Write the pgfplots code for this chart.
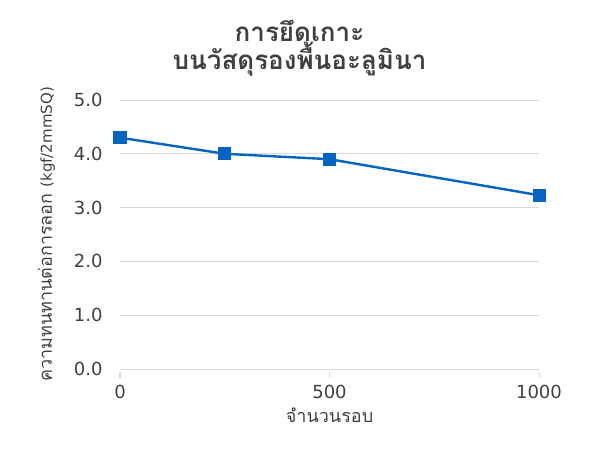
\documentclass[border=0pt]{standalone}
\usepackage{pgfplots}
\pgfplotsset{compat=1.18}
\usepackage{fontspec}
\setmainfont{DejaVu Sans}
\newfontfamily\thaifont[Script=Thai]{Loma}
\definecolor{txt}{HTML}{404040}
\definecolor{grid}{HTML}{D9D9D9}
\definecolor{ser}{HTML}{0563C1}
\begin{document}
\begin{tikzpicture}[x=1pt,y=1pt]
\useasboundingbox (0,0) rectangle (600,451);
\begin{axis}[
  at={(120pt,82pt)}, anchor=south west,
  scale only axis, width=419pt, height=269pt,
  xmin=0, xmax=1000, ymin=0, ymax=5,
  xtick={0,500,1000}, ytick={0,1,2,3,4,5},
  /pgf/number format/1000 sep={},
  yticklabel={\pgfmathprintnumber[fixed,fixed zerofill,precision=1]{\tick}},
  /pgf/number format/assume math mode=true,
  axis y line*=left, axis x line*=bottom,
  y axis line style={draw=none},
  x axis line style={draw=grid, line width=1pt},
  ymajorgrids, grid style={draw=grid, line width=0.8pt},
  major tick length=6pt,
  xtick style={draw=grid, line width=1pt},
  x tick style={yshift=-3pt},
  ytick style={draw=none},
  tick align=outside,
  ticklabel style={font=\fontsize{18}{20}\selectfont, text=txt},
  yticklabel style={xshift=-8pt},
  xticklabel style={yshift=-7pt},
  xlabel={จำนวนรอบ},
  ylabel={ความทนทานต่อการลอก \normalfont\fontsize{15}{18}\selectfont(kgf/2mmSQ)},
  xlabel style={font=\thaifont\fontsize{18}{20}\selectfont, text=txt, yshift=-2pt},
  ylabel style={font=\thaifont\fontsize{18}{20}\selectfont, text=txt, yshift=12pt},
  title={การยึดเกาะ\\บนวัสดุรองพื้นอะลูมินา},
  title style={font=\thaifont\bfseries\fontsize{26}{24}\selectfont, text=txt, align=center, yshift=14pt, xshift=-30pt},
  clip=false,
]
\addplot[ser, line width=2.4pt, mark=square*, mark size=6pt, mark options={fill=ser, draw=ser, line width=0pt}]
  coordinates {(0,4.30) (250,4.00) (500,3.90) (1000,3.23)};
\end{axis}
\end{tikzpicture}
\end{document}
